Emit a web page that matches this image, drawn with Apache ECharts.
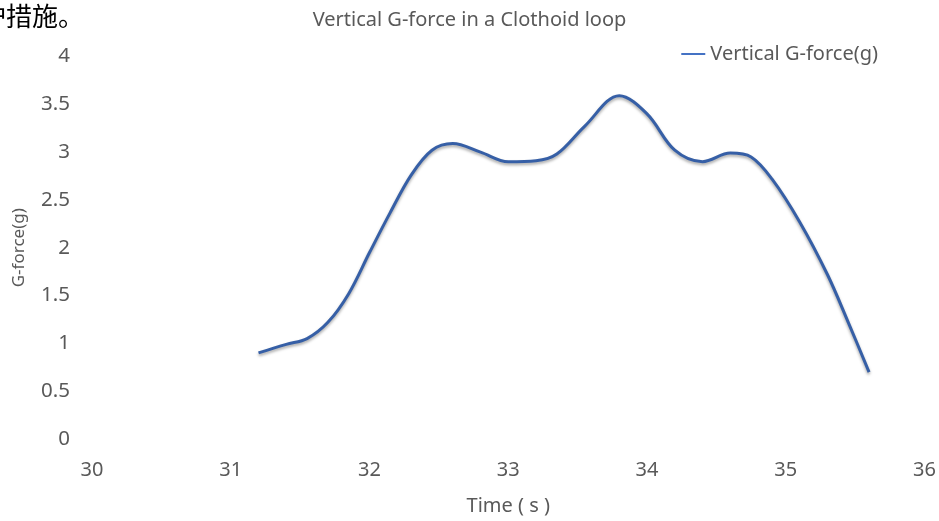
<!DOCTYPE html>
<html>
<head>
<meta charset="utf-8">
<title>Vertical G-force in a Clothoid loop</title>
<script src="https://cdn.jsdelivr.net/npm/echarts@6/dist/echarts.min.js"></script>
<style>
  html, body { margin: 0; padding: 0; background: #ffffff; }
  #chart { width: 939px; height: 521px; }
</style>
</head>
<body>
<div id="chart"></div>
<script>
// Sampled time stamps (s) and vertical G-force (g) through the loop
const timeSeconds = [31.2, 31.4, 31.55, 31.7, 31.85, 32.0, 32.15, 32.3, 32.45, 32.6, 32.8, 33.0, 33.2, 33.35, 33.55, 33.8, 34.0, 34.2, 34.4, 34.6, 34.75, 34.9, 35.1, 35.3, 35.45, 35.6];
const gForce = [0.9, 0.99, 1.05, 1.22, 1.52, 1.95, 2.37, 2.76, 3.02, 3.09, 3.0, 2.9, 2.91, 2.98, 3.27, 3.59, 3.4, 3.02, 2.9, 2.99, 2.95, 2.72, 2.27, 1.72, 1.22, 0.7];

const xTicks = [30, 31, 32, 33, 34, 35, 36];
const yTicks = [0, 0.5, 1, 1.5, 2, 2.5, 3, 3.5, 4];

const seriesName = 'Vertical G-force(g)';
const chartTitle = 'Vertical G-force in a Clothoid loop';
const pageFragment = '护措施。';

const points = timeSeconds.map((t, i) => [t, gForce[i]]);
const labelColor = '#595959';
const font = '"Noto Sans", "Open Sans", sans-serif';

const chart = echarts.init(document.getElementById('chart'));
chart.setOption({
  backgroundColor: '#ffffff',
  animation: false,
  title: {
    text: chartTitle,
    left: 'center',
    top: 5,
    textStyle: { color: labelColor, fontSize: 20, fontWeight: 'normal', fontFamily: font }
  },
  legend: {
    right: 56,
    top: 39,
    icon: 'path://M0,0 L24,0 L24,2 L0,2 Z',
    itemWidth: 24,
    itemHeight: 2,
    itemGap: 2,
    data: [seriesName],
    textStyle: { color: labelColor, fontSize: 20, fontFamily: font }
  },
  graphic: [{
    type: 'text',
    left: -20,
    top: 3,
    style: {
      text: pageFragment,
      fill: '#000000',
      font: '26px "Noto Sans CJK SC", sans-serif'
    }
  }],
  grid: { left: 92, right: 14, top: 56.5, bottom: 75.5 },
  xAxis: {
    type: 'value',
    min: xTicks[0],
    max: xTicks[xTicks.length - 1],
    interval: 1,
    name: 'Time ( s )',
    nameLocation: 'middle',
    nameGap: 57,
    nameTextStyle: { color: labelColor, fontSize: 20, fontFamily: font },
    axisLine: { show: false },
    axisTick: { show: false },
    splitLine: { show: false },
    axisLabel: { color: labelColor, fontSize: 20, fontFamily: font, margin: 21 }
  },
  yAxis: {
    type: 'value',
    min: yTicks[0],
    max: yTicks[yTicks.length - 1],
    interval: 0.5,
    name: 'G-force(g)',
    nameLocation: 'middle',
    nameGap: 64,
    nameRotate: 90,
    nameTextStyle: { color: labelColor, fontSize: 17, fontFamily: font },
    axisLine: { show: false },
    axisTick: { show: false },
    splitLine: { show: false },
    axisLabel: { color: labelColor, fontSize: 20.5, fontFamily: font, margin: 22 }
  },
  series: [{
    name: seriesName,
    type: 'line',
    data: points,
    smooth: 0.35,
    showSymbol: false,
    symbol: 'none',
    itemStyle: { color: '#4472C4' },
    lineStyle: {
      color: '#365FA6',
      width: 3,
      shadowColor: 'rgba(0,0,0,0.35)',
      shadowBlur: 3,
      shadowOffsetY: 2
    }
  }]
});
</script>
</body>
</html>
